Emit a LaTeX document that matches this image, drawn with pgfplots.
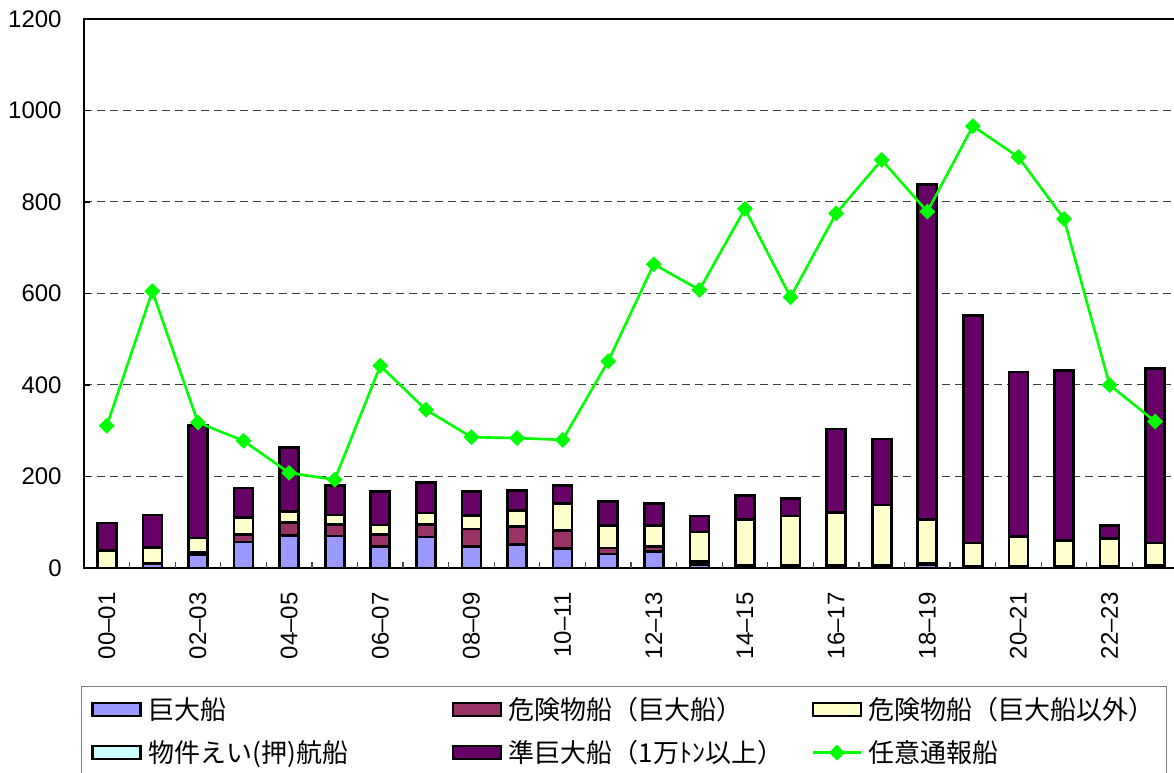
\documentclass[border=0pt]{standalone}
\usepackage{fontspec}
\setmainfont{Liberation Sans}
\newfontfamily\jp{Noto Sans CJK JP}
\usepackage{pgfplots}
\usepackage{pgfplotstable}
\pgfplotsset{compat=1.18}
\definecolor{cBlue}{HTML}{9999FF}
\definecolor{cRed}{HTML}{993366}
\definecolor{cYel}{HTML}{FFFFCC}
\definecolor{cCyan}{HTML}{CCFFFF}
\definecolor{cPur}{HTML}{660066}
\definecolor{cGrn}{HTML}{00FF00}
\pgfplotsset{
  barleg/.style={legend image code/.code={\draw[##1] (0pt,-3.25pt) rectangle (24pt,3.25pt); \path[draw=none,fill=none] (28pt,0pt);}},
  lineleg/.style={legend image code/.code={\draw[##1,mark repeat=2,mark phase=2] plot coordinates {(0pt,0pt) (12pt,0pt) (24pt,0pt)}; \path[draw=none,fill=none] (28pt,0pt);}},
}
\pgfplotstableread{
x b r y c p g
0  0  0  38  0 60  311
1  10 0  35  0 71  605
2  28 6  32  0 245 318
3  57 16 38  0 64  278
4  71 29 24  0 140 208
5  70 25 21  0 64  193
6  47 26 21  0 73  442
7  68 27 25  0 67  346
8  47 38 30  0 52  286
9  51 40 35  0 44  284
10 42 40 59  0 39  280
11 31 13 49  0 52  452
12 36 11 46  0 48  664
13 8  6  65  0 35  608
14 3  3  100 0 53  785
15 3  3  108 0 38  592
16 3  3  115 0 183 775
17 2  3  133 0 144 892
18 8  3  95  0 732 779
19 1  2  52  0 497 966
20 2  2  65  0 359 898
21 1  2  57  0 372 763
22 1  2  62  0 28  400
23 3  2  50  0 381 320
}\data
\begin{document}
\begin{tikzpicture}
\useasboundingbox (0pt,0pt) rectangle (587pt,386pt);
\begin{axis}[
  at={(42pt,102pt)}, anchor=south west,
  scale only axis, width=547pt, height=274.5pt,
  xmin=-0.5, xmax=23.5, ymin=0, ymax=1200,
  ybar stacked, bar width=9.5pt,
  axis line style={line width=1pt, black},
  ytick={0,200,...,1200},
  ymajorgrids,
  grid style={dash pattern=on 4pt off 2.5pt, line width=0.5pt, black!75},
  xtick={0,2,...,22},
  xticklabels={00--01,02--03,04--05,06--07,08--09,10--11,12--13,14--15,16--17,18--19,20--21,22--23},
  xtick style={draw=none},
  extra x ticks={0.5,1.5,...,22.5},
  extra x tick labels={},
  extra x tick style={grid=none, xtick style={draw=black!70, line width=0.6pt}},
  ytick style={draw=black, line width=0.6pt},
  tick align=inside, major tick length=3pt,
  xtick pos=bottom, ytick pos=left,
  tick label style={font=\fontsize{12}{14}\selectfont},
  xticklabel style={rotate=90, anchor=east, inner sep=0pt},
  xticklabel shift=12pt,
  yticklabel style={anchor=east, inner sep=0pt},
  yticklabel shift=11pt,
  /pgf/number format/assume math mode=true,
  /pgf/number format/1000 sep={},
]
\addplot[fill=cBlue, draw=black, line width=1.3pt] table[x=x,y=b]{\data};
\addplot[fill=cRed, draw=black, line width=1.3pt] table[x=x,y=r]{\data};
\addplot[fill=cYel, draw=black, line width=1.3pt] table[x=x,y=y]{\data};
\addplot[fill=cCyan, draw=black, line width=1.3pt] table[x=x,y=c]{\data};
\addplot[fill=cPur, draw=black, line width=1.3pt] table[x=x,y=p]{\data};
\end{axis}
\begin{axis}[
  at={(42pt,102pt)}, anchor=south west,
  scale only axis, width=547pt, height=274.5pt,
  xmin=-0.5, xmax=23.5, ymin=0, ymax=1200,
  hide axis,
  legend columns=3,
  legend cell align=left,
  legend style={at={(-0.003,-0.2149)}, anchor=north west,
    draw=gray, line width=0.7pt, inner xsep=5pt, inner ysep=0.75pt,
    column sep=0pt, row sep=0pt,
    nodes={inner sep=0pt, minimum height=21.5pt, anchor=west},
    font=\jp\fontsize{13}{15}\selectfont},
]
\addlegendimage{barleg, fill=cBlue, draw=black, line width=1.1pt}
\addlegendentry{\makebox[151.5pt][l]{巨大船}}
\addlegendimage{barleg, fill=cRed, draw=black, line width=1.1pt}
\addlegendentry{\makebox[151.5pt][l]{危険物船（巨大船）}}
\addlegendimage{barleg, fill=cYel, draw=black, line width=1.1pt}
\addlegendentry{\makebox[143.7pt][l]{危険物船（巨大船以外）}}
\addlegendimage{barleg, fill=cCyan, draw=black, line width=1.1pt}
\addlegendentry{\makebox[151.5pt][l]{物件えい(押)航船}}
\addlegendimage{barleg, fill=cPur, draw=black, line width=1.1pt}
\addlegendentry{\makebox[151.5pt][l]{準巨大船（1万ﾄﾝ以上）}}
\addplot[lineleg, color=cGrn, line width=1.3pt, mark=square*, mark size=2.6pt,
  mark options={rotate=45, fill=cGrn, draw=cGrn, line width=0.4pt}] table[x=x,y=g]{\data};
\addlegendentry{\makebox[143.7pt][l]{任意通報船}}
\end{axis}
\end{tikzpicture}
\end{document}
